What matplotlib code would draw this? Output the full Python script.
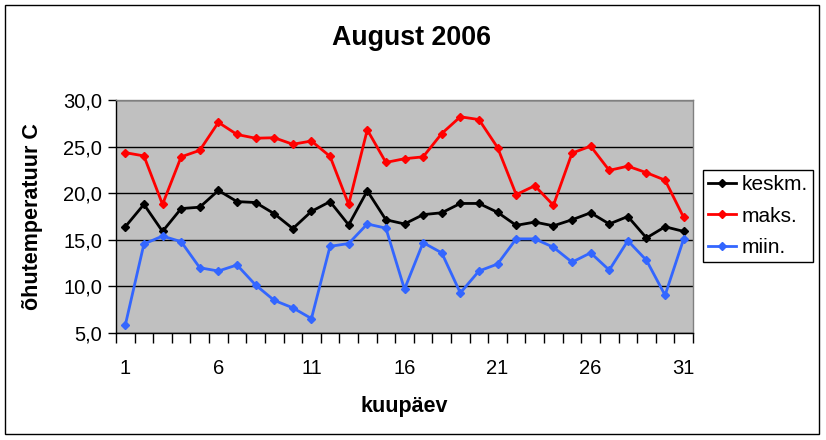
import matplotlib
matplotlib.use("Agg")
import matplotlib.pyplot as plt
from matplotlib.patches import Rectangle
from matplotlib.ticker import FuncFormatter

days = list(range(1, 32))
keskm = [16.4, 18.8, 15.9, 18.35, 18.5, 20.3, 19.1, 19.0, 17.8, 16.2, 18.05, 19.1, 16.6, 20.25, 17.15, 16.7,
         17.7, 17.9, 18.9, 18.9, 17.95, 16.55, 16.9, 16.5, 17.15, 17.9, 16.7, 17.5, 15.2, 16.4, 15.9]
maks = [24.35, 24.0, 18.8, 23.9, 24.6, 27.6, 26.3, 25.9, 25.95, 25.25, 25.6, 23.95, 18.8, 26.8, 23.3, 23.7,
        23.9, 26.4, 28.2, 27.9, 24.9, 19.85, 20.8, 18.7, 24.3, 25.05, 22.45, 22.9, 22.2, 21.4, 17.4]
miin = [5.85, 14.55, 15.4, 14.8, 12.0, 11.65, 12.3, 10.15, 8.5, 7.7, 6.55, 14.3, 14.6, 16.7, 16.25, 9.7,
        14.7, 13.6, 9.3, 11.65, 12.4, 15.1, 15.1, 14.2, 12.6, 13.6, 11.75, 14.9, 12.8, 9.05, 15.1]
series_names = ["keskm.", "maks.", "miin."]
colors = ["#000000", "#FF0000", "#3366FF"]
x_labels = [1, 6, 11, 16, 21, 26, 31]
y_ticks = [5, 10, 15, 20, 25, 30]

plt.rcParams['font.family'] = ['Liberation Sans', 'DejaVu Sans']

W, H = 826, 440
fig = plt.figure(figsize=(W / 100, H / 100), dpi=100)
fig.patch.set_facecolor("white")
fig.patches.append(Rectangle((5 / W, 1 - 434 / H), (819 - 5) / W, (434 - 5) / H,
                             transform=fig.transFigure, fill=False, edgecolor="black", linewidth=1.0))

left, right, top, bottom = 116, 693, 100, 333
ax = fig.add_axes([left / W, 1 - bottom / H, (right - left) / W, (bottom - top) / H])
ax.set_facecolor("#C0C0C0")

for vals, name, c in zip([keskm, maks, miin], series_names, colors):
    ax.plot(days, vals, color=c, linewidth=2.0, marker="D", markersize=4, label=name, zorder=3)

ax.set_xlim(0.5, 31.5)
ax.set_ylim(5, 30)
ax.set_yticks(y_ticks)
ax.yaxis.set_major_formatter(FuncFormatter(lambda v, p: f"{v:.1f}".replace(".", ",")))
ax.grid(axis="y", color="black", linewidth=1.0, zorder=1)
ax.set_axisbelow(True)

ax.set_xticks(x_labels)
ax.set_xticklabels([str(v) for v in x_labels])
ax.set_xticks([d + 0.5 for d in range(0, 32)], minor=True)
ax.tick_params(axis="x", which="major", length=0, pad=19, labelsize=14.5)
ax.tick_params(axis="x", which="minor", length=7, direction="out", width=1)
ax.tick_params(axis="y", which="major", length=6, direction="out", width=1, labelsize=14.5, pad=4)

for s in ["left", "bottom"]:
    ax.spines[s].set_color("black")
    ax.spines[s].set_linewidth(1.0)
for s in ["top", "right"]:
    ax.spines[s].set_color("#808080")
    ax.spines[s].set_linewidth(1.0)

fig.text(412 / W, 1 - 38 / H, "August 2006", ha="center", va="center", fontsize=19.3, fontweight="bold")
fig.text(33 / W, 1 - 217 / H, "õhutemperatuur C", ha="center", va="center", rotation=90,
         fontsize=15.5, fontweight="bold")
fig.text(404 / W, 1 - 406 / H, "kuupäev", ha="center", va="center", fontsize=15.5, fontweight="bold")

leg = fig.legend(loc="upper left", bbox_to_anchor=(703 / W, 1 - 170 / H), bbox_transform=fig.transFigure,
                 fontsize=15, frameon=True, fancybox=False, edgecolor="black", framealpha=1,
                 handlelength=1.35, handletextpad=0.25, borderpad=0.25, labelspacing=0.6,
                 borderaxespad=0)
leg.get_frame().set_linewidth(1.0)

fig.savefig("out.png", dpi=100)
